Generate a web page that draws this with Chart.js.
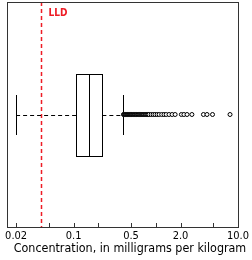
<!DOCTYPE html>
<html>
<head>
<meta charset="utf-8">
<script src="https://cdn.jsdelivr.net/npm/chart.js@4"></script>
<style>
  html, body { margin: 0; padding: 0; background: #fff; }
  #wrap { width: 252px; height: 260px; }
</style>
</head>
<body>
<div id="wrap"><canvas id="chart"></canvas></div>
<script>
// box plot summary: lower whisker, q1, median, q3, upper whisker
const boxStats = [0.02, 0.108, 0.156, 0.224, 0.40];
// points beyond the upper whisker (dense run up to ~0.8)
const outliers = [0.405, 0.41, 0.415, 0.42, 0.425, 0.43, 0.435, 0.44, 0.445, 0.45,
  0.455, 0.46, 0.465, 0.47, 0.475, 0.48, 0.485, 0.49, 0.495, 0.50, 0.505, 0.51,
  0.515, 0.52, 0.53, 0.535, 0.54, 0.55, 0.555, 0.56, 0.57, 0.58, 0.585, 0.59,
  0.60, 0.61, 0.62, 0.63, 0.64, 0.65, 0.66, 0.67, 0.68, 0.69, 0.70, 0.71, 0.72,
  0.74, 0.75, 0.76, 0.78, 0.79, 0.81, 0.83,
  0.88, 0.93, 0.98, 1.04, 1.1, 1.18, 1.26, 1.34, 1.45, 1.58, 1.72,
  2.05, 2.2, 2.4, 2.75,
  3.8, 4.2, 4.9,
  8.0];
const lldValue = [0.04];
const lldLabel = ['LLD'];
const tickValues = [0.02, 0.05, 0.1, 0.2, 0.5, 1, 2, 5, 10];
const tickLabels = ['0.02', '', '0.1', '', '0.5', '', '2.0', '', '10.0'];
const axisTitle = ['Concentration, in milligrams per kilogram'];

const FONT = '"Liberation Sans Narrow", "DejaVu Sans Condensed", "Roboto Condensed", "Liberation Sans", sans-serif';

// draws the box, whiskers, LLD line, frame, inward ticks and axis title
const boxPlugin = {
  id: 'boxPlugin',
  beforeDatasetsDraw(chart) {
    const { ctx, chartArea: a, scales: { x, y } } = chart;
    const cy = Math.round(y.getPixelForValue(0));
    const boxH = 41, capH = 20;
    const px = boxStats.map(v => x.getPixelForValue(v));
    ctx.save();

    // LLD
    const lx = Math.round(x.getPixelForValue(lldValue[0])) + 0.5;
    ctx.strokeStyle = '#ee1c25';
    ctx.lineWidth = 1.5;
    ctx.setLineDash([4, 3]);
    ctx.beginPath();
    ctx.moveTo(lx, a.top);
    ctx.lineTo(lx, a.bottom);
    ctx.stroke();
    ctx.setLineDash([]);
    ctx.fillStyle = '#ee1c25';
    ctx.font = 'bold 10px ' + FONT;
    ctx.textAlign = 'left';
    ctx.textBaseline = 'middle';
    ctx.fillText(lldLabel[0], lx + 7, a.top + 11);

    // whiskers
    ctx.strokeStyle = '#000';
    ctx.lineWidth = 1;
    ctx.setLineDash([4, 3]);
    ctx.beginPath();
    ctx.moveTo(px[0], cy + 0.5);
    ctx.lineTo(px[1], cy + 0.5);
    ctx.moveTo(px[3], cy + 0.5);
    ctx.lineTo(px[4], cy + 0.5);
    ctx.stroke();
    ctx.setLineDash([]);
    ctx.beginPath();
    [px[0], px[4]].forEach(p => {
      const xx = Math.round(p) + 0.5;
      ctx.moveTo(xx, cy - capH);
      ctx.lineTo(xx, cy + capH);
    });
    ctx.stroke();

    // box + median
    const b1 = Math.round(px[1]) + 0.5, b3 = Math.round(px[3]) + 0.5, m = Math.round(px[2]) + 0.5;
    ctx.fillStyle = '#fff';
    ctx.fillRect(b1, cy - boxH, b3 - b1, boxH * 2);
    ctx.strokeRect(b1, cy - boxH + 0.5, b3 - b1, boxH * 2);
    ctx.beginPath();
    ctx.moveTo(m, cy - boxH);
    ctx.lineTo(m, cy + boxH);
    ctx.stroke();
    ctx.restore();
  },
  afterDraw(chart) {
    const { ctx, chartArea: a, scales: { x } } = chart;
    ctx.save();
    ctx.strokeStyle = '#333';
    ctx.lineWidth = 1;
    ctx.strokeRect(Math.round(a.left) + 0.5, Math.round(a.top) + 0.5,
      Math.round(a.right - a.left), Math.round(a.bottom - a.top));
    ctx.beginPath();
    tickValues.forEach(v => {
      const xx = Math.round(x.getPixelForValue(v)) + 0.5;
      ctx.moveTo(xx, a.bottom);
      ctx.lineTo(xx, a.bottom - 4);
    });
    ctx.stroke();
    // axis title, centred a little right of the plot like the original
    ctx.fillStyle = '#000';
    ctx.font = '12.4px ' + FONT;
    ctx.textAlign = 'center';
    ctx.textBaseline = 'middle';
    ctx.fillText(axisTitle[0], 130, a.bottom + 22);
    ctx.restore();
  }
};

new Chart(document.getElementById('chart'), {
  type: 'scatter',
  data: {
    datasets: [{
      data: outliers.map(v => ({ x: v, y: 0 })),
      pointStyle: 'circle',
      pointRadius: 2,
      pointBorderWidth: 1,
      borderColor: '#000',
      backgroundColor: '#fff'
    }]
  },
  options: {
    responsive: true,
    maintainAspectRatio: false,
    animation: false,
    layout: { autoPadding: false, padding: { left: 7, right: 13, top: 2, bottom: 0 } },
    plugins: { legend: { display: false }, tooltip: { enabled: false } },
    scales: {
      x: {
        type: 'logarithmic',
        min: 0.0155,
        max: 10,
        afterBuildTicks: s => { s.ticks = tickValues.map(v => ({ value: v })); },
        afterFit: s => { s.height = 33; },
        ticks: {
          autoSkip: false,
          maxRotation: 0,
          padding: 3,
          color: '#000',
          font: { family: FONT, size: 11 },
          callback: (v, i) => tickLabels[i]
        },
        grid: { display: false, drawTicks: false },
        border: { display: false },
        title: { display: false }
      },
      y: {
        type: 'linear',
        min: -1,
        max: 1,
        display: false
      }
    }
  },
  plugins: [boxPlugin]
});
</script>
</body>
</html>
